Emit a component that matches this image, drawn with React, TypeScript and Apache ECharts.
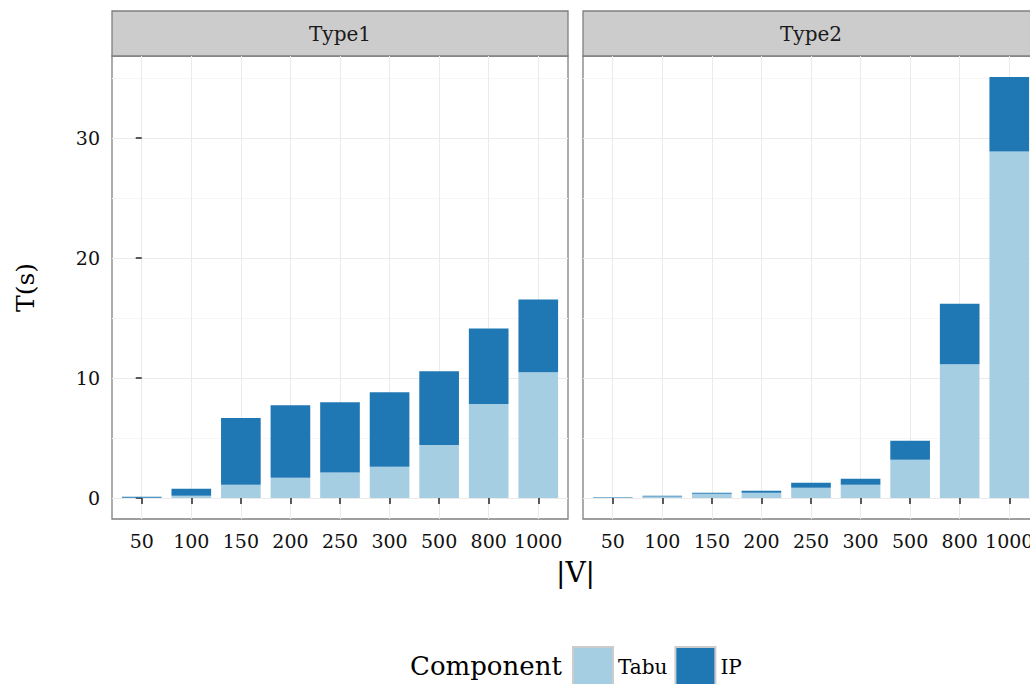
import React, { useEffect, useRef } from "react";
import * as echarts from "echarts";

const categories = ["50", "100", "150", "200", "250", "300", "500", "800", "1000"];
const facets = ["Type1", "Type2"];
const type1Tabu = [0.02, 0.19, 1.1, 1.69, 2.12, 2.6, 4.42, 7.83, 10.48];
const type1IP = [0.08, 0.58, 5.56, 6.05, 5.87, 6.22, 6.14, 6.3, 6.06];
const type2Tabu = [0.02, 0.12, 0.36, 0.44, 0.85, 1.1, 3.18, 11.15, 28.9];
const type2IP = [0.04, 0.07, 0.08, 0.17, 0.42, 0.5, 1.58, 5.05, 6.2];
const yTicks = [0, 10, 20, 30];
const yMinorTicks = [5, 15, 25, 35];
const components = ["Tabu", "IP"];
const legendTitle = "Component";
const xTitle = "|V|";
const yTitle = "T(s)";

const FONT = "DejaVu Serif";
const COLORS: Record<string, string> = { Tabu: "#a6cee3", IP: "#1f78b4" };

const GRID_TOP = 56;
const GRID_H = 463;
const GRID_W = 456;
const GRID_LEFTS = [112, 583];
const STRIP_TOP = 11;
const STRIP_H = 45;
const X_EXPAND = 0.6;

export default function App() {
  const ref = useRef<HTMLDivElement>(null);
  useEffect(() => {
    if (!ref.current) return;
    const chart = echarts.init(ref.current, null, { renderer: "svg" });
    const facetData = [
      { Tabu: type1Tabu, IP: type1IP },
      { Tabu: type2Tabu, IP: type2IP },
    ];
    let maxTotal = 0;
    facetData.forEach((f) =>
      f.Tabu.forEach((v, k) => {
        maxTotal = Math.max(maxTotal, v + f.IP[k]);
      })
    );
    const yMin = -0.05 * maxTotal;
    const yMax = maxTotal * 1.05;
    const xMin = -X_EXPAND;
    const xMax = categories.length - 1 + X_EXPAND;
    const bandPx = GRID_W / (xMax - xMin);
    const barW = bandPx * 0.8;
    const catIdx = categories.map((_, i) => i);

    const grids = GRID_LEFTS.map((left) => ({
      left,
      top: GRID_TOP,
      width: GRID_W,
      height: GRID_H,
      show: true,
      borderColor: "#7f7f7f",
      borderWidth: 1.3,
      backgroundColor: "transparent",
      containLabel: false,
      outerBoundsMode: "none",
    }));

    const tickStyle = { color: "#333333", width: 1.6 };
    const labelStyle = { fontFamily: FONT, fontSize: 19, color: "#111111" };

    const xAxes = facets.map((_, i) => ({
      type: "value",
      gridIndex: i,
      min: xMin,
      max: xMax,
      axisLine: { show: false },
      axisTick: { show: true, customValues: catIdx, length: 6, lineStyle: tickStyle },
      axisLabel: {
        customValues: catIdx,
        formatter: (v: number) => categories[Math.round(v)],
        margin: 12,
        hideOverlap: false,
        ...labelStyle,
      },
      splitLine: { show: true, lineStyle: { color: "#ebebeb", width: 1 } },
    }));

    const yAxes: any[] = [];
    facets.forEach((_, i) => {
      yAxes.push({
        type: "value",
        gridIndex: i,
        min: yMin,
        max: yMax,
        axisLine: { show: false },
        axisTick: { show: i === 0, customValues: yTicks, length: 6, lineStyle: tickStyle },
        axisLabel: {
          show: i === 0,
          customValues: yTicks,
          formatter: (v: number) => String(Math.round(v)),
          margin: 12,
          ...labelStyle,
        },
        splitLine: { show: true, lineStyle: { color: "#ebebeb", width: 1 } },
      });
      yAxes.push({
        type: "value",
        gridIndex: i,
        position: "left",
        min: yMin,
        max: yMax,
        axisLine: { show: false },
        axisTick: { show: false, customValues: yMinorTicks },
        axisLabel: { show: false, customValues: yMinorTicks },
        splitLine: { show: true, lineStyle: { color: "#f7f7f7", width: 1 } },
      });
    });

    const series: any[] = [];
    facetData.forEach((f: any, i) => {
      components.forEach((c) => {
        series.push({
          type: "bar",
          name: c,
          xAxisIndex: i,
          yAxisIndex: 2 * i,
          stack: "s" + i,
          barWidth: barW,
          dimensions: ["t", "idx"],
          encode: { x: 1, y: 0 },
          data: f[c].map((v: number, k: number) => [v, k]),
          itemStyle: { color: COLORS[c] },
          emphasis: { disabled: true },
        });
      });
    });

    const graphic: any[] = [];
    facets.forEach((name, i) => {
      graphic.push({
        type: "rect",
        shape: { x: GRID_LEFTS[i], y: STRIP_TOP, width: GRID_W, height: STRIP_H },
        style: { fill: "#cccccc", stroke: "#7f7f7f", lineWidth: 1.3 },
        silent: true,
      });
      graphic.push({
        type: "text",
        x: GRID_LEFTS[i] + GRID_W / 2,
        y: STRIP_TOP + STRIP_H / 2,
        style: {
          text: name,
          fontFamily: FONT,
          fontSize: 20,
          fill: "#1a1a1a",
          align: "center",
          verticalAlign: "middle",
        },
        silent: true,
      });
    });
    graphic.push({
      type: "text",
      x: (GRID_LEFTS[0] + GRID_LEFTS[1] + GRID_W) / 2,
      y: 572,
      style: { text: xTitle, fontFamily: FONT, fontSize: 28, fill: "#000", align: "center", verticalAlign: "middle" },
      silent: true,
    });
    graphic.push({
      type: "text",
      x: 25,
      y: GRID_TOP + GRID_H / 2,
      rotation: Math.PI / 2,
      style: { text: yTitle, fontFamily: FONT, fontSize: 25, fill: "#000", align: "center", verticalAlign: "middle" },
      silent: true,
    });
    graphic.push({
      type: "text",
      x: 410,
      y: 666,
      style: { text: legendTitle, fontFamily: FONT, fontSize: 26, fill: "#000", align: "left", verticalAlign: "middle" },
      silent: true,
    });

    chart.setOption({
      animation: false,
      backgroundColor: "#ffffff",
      grid: grids,
      xAxis: xAxes,
      yAxis: yAxes,
      series,
      legend: {
        data: components,
        left: 572,
        top: 646,
        padding: 0,
        itemWidth: 40,
        itemHeight: 40,
        itemGap: 7,
        icon: "rect",
        selectedMode: false,
        itemStyle: { borderColor: "#cccccc", borderWidth: 2 },
        textStyle: { fontFamily: FONT, fontSize: 20, color: "#000" },
      },
      graphic,
    });
    return () => chart.dispose();
  }, []);
  return (
    <div
      ref={ref}
      style={{ position: "absolute", left: 0, top: 0, width: 1030, height: 684 }}
    />
  );
}
